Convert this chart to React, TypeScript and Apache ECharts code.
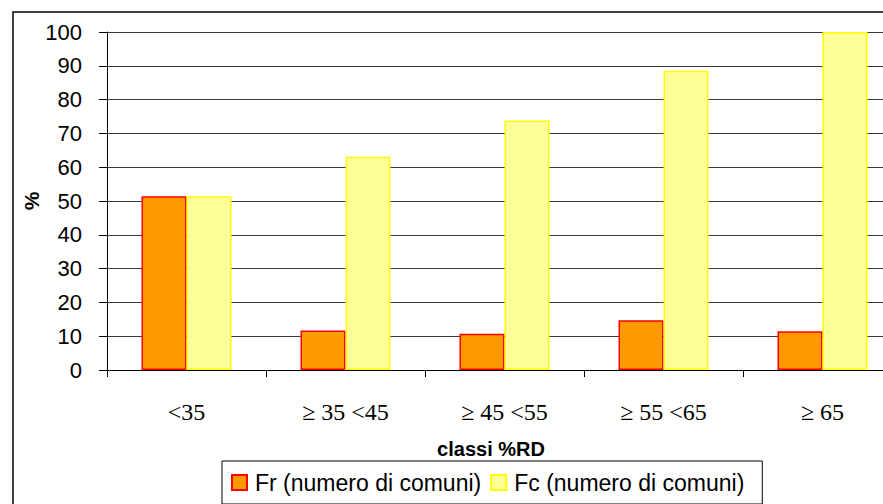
import React, { useEffect, useRef } from "react";
import * as echarts from "echarts";

const categories = ["<35", "≥ 35 <45", "≥ 45 <55", "≥ 55 <65", "≥ 65"];
const frValues = [51.4, 11.7, 10.7, 14.7, 11.5];
const fcValues = [51.4, 63.1, 73.8, 88.5, 100];
const seriesNames = ["Fr (numero di comuni)", "Fc (numero di comuni)"];
const xTitle = "classi %RD";
const yTitle = "%";

export default function App() {
  const ref = useRef<HTMLDivElement>(null);
  useEffect(() => {
    document.body.style.margin = "0";
    const chart = echarts.init(ref.current!, undefined, { renderer: "svg" });
    chart.setOption({
      animation: false,
      backgroundColor: "#ffffff",
      grid: {
        left: 107,
        top: 32,
        width: 795,
        height: 338,
        containLabel: false,
        outerBoundsMode: "none",
      },
      xAxis: {
        type: "category",
        data: categories,
        axisLine: { lineStyle: { color: "#000", width: 1 } },
        axisTick: { show: true, length: 7, lineStyle: { color: "#000" } },
        axisLabel: {
          margin: 30,
          fontFamily: "Liberation Serif, Times New Roman, serif",
          fontSize: 24,
          color: "#000",
        },
        splitLine: { show: false },
      },
      yAxis: {
        type: "value",
        min: 0,
        max: 100,
        interval: 10,
        name: yTitle,
        nameLocation: "middle",
        nameGap: 65,
        nameMoveOverlap: false,
        nameTextStyle: {
          fontFamily: "Liberation Sans, Arial, sans-serif",
          fontWeight: "bold",
          fontSize: 21,
          color: "#000",
        },
        axisLine: { show: true, lineStyle: { color: "#000", width: 1 } },
        axisTick: { show: true, length: 8, lineStyle: { color: "#000" } },
        axisLabel: {
          margin: 25,
          fontFamily: "Liberation Sans, Arial, sans-serif",
          fontSize: 22,
          color: "#000",
        },
        splitLine: { show: true, lineStyle: { color: "#3a3a3a", width: 1 } },
      },
      legend: {
        left: 222,
        top: 461,
        orient: "horizontal",
        itemWidth: 15,
        itemHeight: 15,
        itemGap: 9,
        padding: [10, 18, 10, 9],
        borderColor: "#000",
        borderWidth: 1,
        icon: "rect",
        textStyle: {
          fontFamily: "Liberation Sans, Arial, sans-serif",
          fontSize: 23,
          color: "#000",
          padding: [0, 0, 0, 3],
        },
        data: seriesNames,
      },
      graphic: [
        {
          type: "rect",
          shape: { x: 13, y: 12, width: 900, height: 520 },
          style: { fill: "none", stroke: "#000", lineWidth: 1.5 },
          silent: true,
        },
        {
          type: "text",
          x: 491,
          y: 449,
          style: {
            text: xTitle,
            fontFamily: "Liberation Sans, Arial, sans-serif",
            fontWeight: "bold",
            fontSize: 20,
            fill: "#000",
            align: "center",
            verticalAlign: "middle",
          },
        },
      ],
      series: [
        {
          name: seriesNames[0],
          type: "bar",
          data: frValues,
          barWidth: 45,
          barGap: "0%",
          itemStyle: { color: "#FF9900", borderColor: "#FF0000", borderWidth: 1.5 },
        },
        {
          name: seriesNames[1],
          type: "bar",
          data: fcValues,
          barWidth: 45,
          barGap: "0%",
          itemStyle: { color: "#FFFF99", borderColor: "#FFFF00", borderWidth: 1.5 },
        },
      ],
    });
    return () => chart.dispose();
  }, []);
  return (
    <div
      ref={ref}
      style={{ position: "absolute", left: 0, top: 0, width: 883, height: 504 }}
    />
  );
}
